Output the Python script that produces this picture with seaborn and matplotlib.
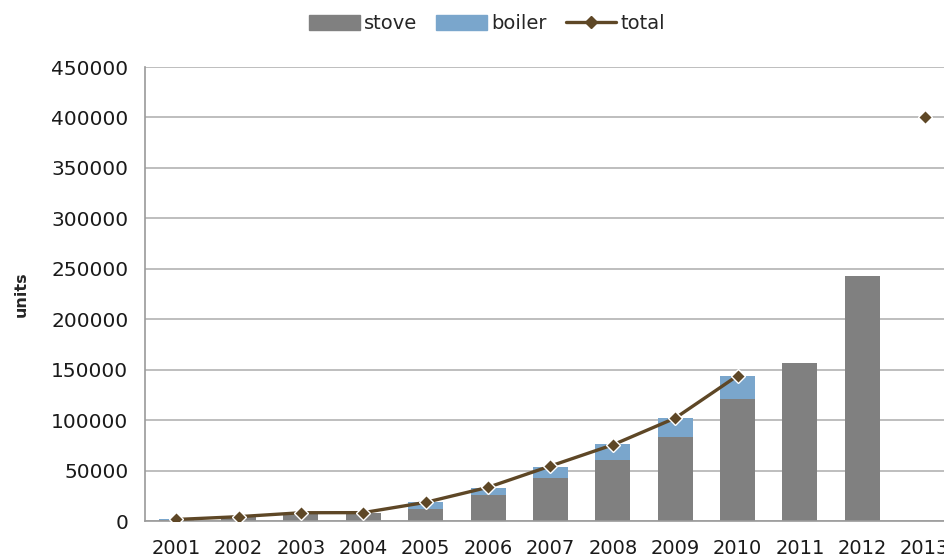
import numpy as np
import pandas as pd
import matplotlib
matplotlib.use("Agg")
import matplotlib.pyplot as plt
from matplotlib.patches import Patch
from matplotlib.lines import Line2D
import seaborn as sns

sns.set_style("white")
plt.rcParams['font.family'] = ['DejaVu Sans']

# data
years = ["2001", "2002", "2003", "2004", "2005", "2006", "2007",
         "2008", "2009", "2010", "2011", "2012", "2013"]
stove = [1000, 4000, 7000, 7500, 12000, 26000, 43000,
         60500, 83600, 121000, 157000, 243000, 0]
boiler = [500, 300, 1200, 800, 6500, 6500, 10500,
          15800, 18800, 22500, 0, 0, 0]
total = [1500, 4300, 8200, 8300, 18500, 33400, 54500,
         75500, 102000, 144000, np.nan, np.nan, 400000]

STOVE_C = "#808080"
BOILER_C = "#7aa6cc"
TOTAL_C = "#5e4726"

df = pd.DataFrame({"year": years, "stove": stove, "boiler": boiler, "total": total})
df["stack"] = df["stove"] + df["boiler"]

fig = plt.figure(figsize=(9.44, 5.58), dpi=100)
ax = fig.add_axes([0.1536, 0.0663, 0.859, 0.8136])

# stacked bars: full stack in blue, stove drawn over it in gray
sns.barplot(data=df, x="year", y="stack", order=years, color=BOILER_C,
            width=0.56, saturation=1, linewidth=0, edgecolor="none", ax=ax)
sns.barplot(data=df, x="year", y="stove", order=years, color=STOVE_C,
            width=0.56, saturation=1, linewidth=0, edgecolor="none", ax=ax)

# total line (gap where no total)
xpos = np.arange(len(years))
ax.plot(xpos, df["total"], color=TOTAL_C, lw=2.4, marker="D", markersize=7.5,
        markerfacecolor=TOTAL_C, markeredgecolor="white", markeredgewidth=1.0,
        zorder=5)

ax.set_xlim(-0.5, 12.5)
ax.set_ylim(0, 450000)
ax.set_yticks(np.arange(0, 450001, 50000))
ax.set_yticklabels([str(v) for v in range(0, 450001, 50000)])
ax.yaxis.grid(True, color="#b3b3b3", lw=1.2)
ax.set_axisbelow(True)

for s in ["top", "right"]:
    ax.spines[s].set_visible(False)
ax.spines["left"].set_color("#9a9a9a")
ax.spines["bottom"].set_color("#9a9a9a")
ax.spines["left"].set_linewidth(1.2)
ax.spines["bottom"].set_linewidth(1.2)

ax.tick_params(axis="y", length=5, color="#9a9a9a", labelsize=14.5,
               labelcolor="#1a1a1a", pad=7)
ax.tick_params(axis="x", length=0, labelsize=14, labelcolor="#1a1a1a", pad=13)
ax.set_xlabel("")
ax.set_ylabel("units", fontsize=11.5, fontweight="bold", labelpad=16)

handles = [Patch(color=STOVE_C, label="stove"),
           Patch(color=BOILER_C, label="boiler"),
           Line2D([0], [0], color=TOTAL_C, lw=2.4, marker="D", markersize=6,
                  markerfacecolor=TOTAL_C, markeredgecolor=TOTAL_C, label="total")]
fig.legend(handles=handles, loc="center", bbox_to_anchor=(0.516, 0.957), ncol=3,
           frameon=False, fontsize=14, handlelength=2.6, handleheight=0.8,
           columnspacing=1.0, handletextpad=0.2)

fig.savefig("out.png", dpi=100)
